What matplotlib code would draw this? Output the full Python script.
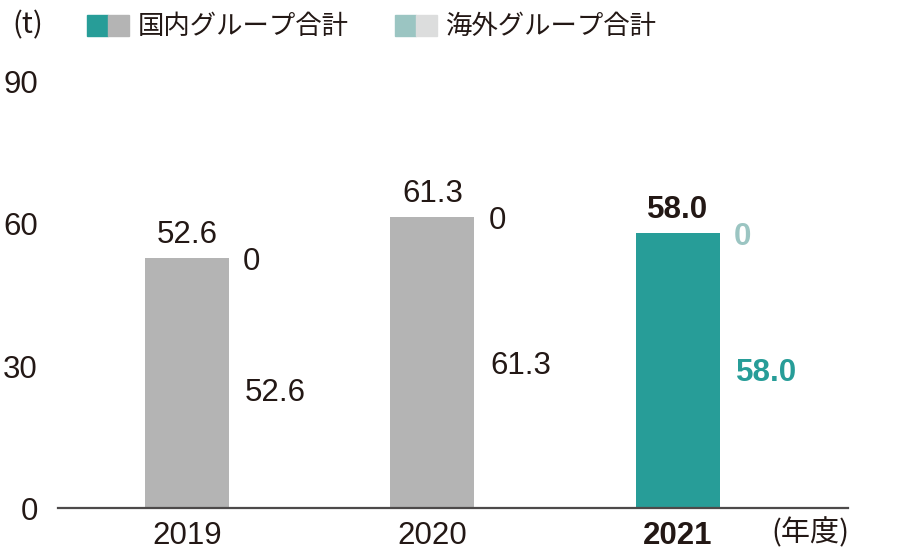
import matplotlib
matplotlib.use("Agg")
import matplotlib.pyplot as plt
from matplotlib.patches import Rectangle
import matplotlib.transforms as mtransforms

years = ["2019", "2020", "2021"]
domestic = [52.6, 61.3, 58.0]
overseas = [0, 0, 0]
yticks = [0, 30, 60, 90]
legend_labels = ["国内グループ合計", "海外グループ合計"]
unit_label = "(t)"
year_unit = "(年度)"

num_font = "Liberation Sans"
jp_font = ["Noto Sans CJK JP", "DejaVu Sans"]
NUM_FS = 22.5

TEAL = "#279d98"
GREY = "#b4b4b4"
LTEAL = "#9bc5c2"
LGREY = "#dcdddd"
INK = "#231815"
AXIS = "#4d4a4a"

W, H = 920, 555
fig = plt.figure(figsize=(W / 100, H / 100), dpi=100)
ax_left, ax_right, ax_bottom, ax_top = 58, 848, 508, 81
ax = fig.add_axes([ax_left / W, 1 - ax_bottom / H, (ax_right - ax_left) / W,
                   (ax_bottom - ax_top) / H])

spacing = 245.5
ax.set_xlim(-(187 - ax_left) / spacing, (ax_right - 187) / spacing)
ax.set_ylim(0, 90)
bw = 84 / spacing

x = list(range(len(years)))
dom_colors = [GREY, GREY, TEAL]
ovs_colors = [LGREY, LGREY, LTEAL]
ax.bar(x, domestic, width=bw, color=dom_colors, zorder=2)
ax.bar(x, overseas, width=bw, bottom=domestic, color=ovs_colors, zorder=2)

for s in ["top", "right", "left"]:
    ax.spines[s].set_visible(False)
ax.spines["bottom"].set_color(AXIS)
ax.spines["bottom"].set_linewidth(1.6)
ax.spines["bottom"].set_zorder(3)

ax.set_yticks(yticks)
ax.set_yticklabels([str(v) for v in yticks], fontsize=NUM_FS, color=INK,
                   fontfamily=num_font)
ax.tick_params(axis="y", length=0, pad=14.4)
offset = mtransforms.ScaledTranslation(0, -4 / 100, fig.dpi_scale_trans)
for lbl in ax.get_yticklabels():
    lbl.set_va("center")
    lbl.set_transform(lbl.get_transform() + offset)

ax.set_xticks(x)
ax.set_xticklabels(years, fontsize=NUM_FS, color=INK, fontfamily=num_font)
ax.tick_params(axis="x", length=0, pad=9)
ax.get_xticklabels()[-1].set_fontweight("bold")

fig.text(849 / W, 1 - 533 / H, year_unit, ha="right", va="center", fontsize=21,
         color=INK, family=jp_font)

# value labels
inner_nudge = [-7, 0, 0]  # pixel nudge of the inner label
for i, (d, o) in enumerate(zip(domestic, overseas)):
    last = i == len(years) - 1
    w = "bold" if last else "normal"
    top = d + o
    ax.annotate(f"{top:.1f}", (i, top), xytext=(0, 15), textcoords="offset pixels",
                ha="center", va="baseline", fontsize=NUM_FS, color=INK, fontweight=w,
                fontfamily=num_font)
    ax.annotate(f"{o:g}", (i + bw / 2, top), xytext=(14, -12), textcoords="offset pixels",
                ha="left", va="baseline", fontsize=NUM_FS, color=LTEAL if last else INK,
                fontweight=w, fontfamily=num_font)
    ax.annotate(f"{d:.1f}", (i + bw / 2, d / 2), xytext=(16, inner_nudge[i] - 11),
                textcoords="offset pixels",
                ha="left", va="baseline", fontsize=NUM_FS, color=TEAL if last else INK,
                fontweight=w, fontfamily=num_font)

# legend
fig.text(12 / W, 1 - 25 / H, unit_label, ha="left", va="center", fontsize=21, color=INK,
         family=jp_font)
for (x0, label, c1, c2) in [(87, legend_labels[0], TEAL, GREY),
                            (395, legend_labels[1], LTEAL, LGREY)]:
    fig.patches.append(Rectangle((x0 / W, 1 - 36 / H), 21 / W, 21 / H, color=c1,
                                 transform=fig.transFigure, figure=fig))
    fig.patches.append(Rectangle(((x0 + 21) / W, 1 - 36 / H), 21 / W, 21 / H, color=c2,
                                 transform=fig.transFigure, figure=fig))
    fig.text((x0 + 51) / W, 1 - 26 / H, label, ha="left", va="center", fontsize=19,
             color=INK, family=jp_font)

fig.savefig("out.png", dpi=100)
